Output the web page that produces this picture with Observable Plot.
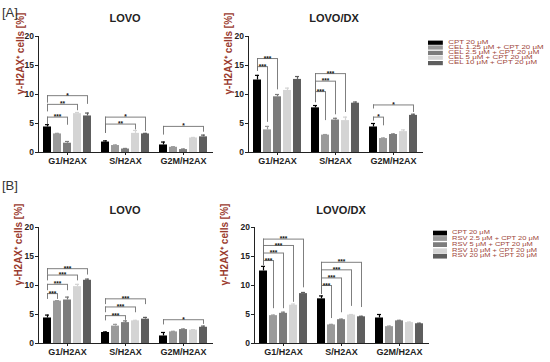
<!DOCTYPE html>
<html>
<head>
<meta charset="utf-8">
<script src="https://cdn.jsdelivr.net/npm/d3@7"></script>
<script src="https://cdn.jsdelivr.net/npm/@observablehq/plot@0.6"></script>
<style>
  body { margin: 0; background: #fff; }
  #root { position: relative; width: 550px; height: 362px; overflow: hidden; font-family: "Liberation Sans", Arial, sans-serif; }
  .abs { position: absolute; }
  .plab { font-size: 13px; color: #333; }
  .title { font-size: 11px; font-weight: bold; color: #222; transform: translateX(-50%); white-space: nowrap; }
  .legend { transform-origin: 0 0; }
  .legend .row { display: flex; align-items: center; font-size: 7.5px; color: #a0473a; white-space: nowrap; }
  .legend .sw { display: inline-block; width: 14px; height: 7px; margin-right: 5px; }
</style>
</head>
<body>
<div id="root"></div>
<script>
// ---------- data ----------
const phases = ["G1/H2AX", "S/H2AX", "G2M/H2AX"];
const treatmentsA = ["CPT 20 μM", "CEL 1.25 μM + CPT 20 μM", "CEL 2.5 μM + CPT 20 μM", "CEL 5 μM + CPT 20 μM", "CEL 10 μM + CPT 20 μM"];
const treatmentsB = ["CPT 20 μM", "RSV 2.5 μM + CPT 20 μM", "RSV 5 μM + CPT 20 μM", "RSV 10 μM + CPT 20 μM", "RSV 20 μM + CPT 20 μM"];
const yTicks = [0, 5, 10, 15, 20];
const yLabel = "γ-H2AX⁺ cells [%]";

// mean per phase (rows) and treatment (columns)
const aLovoMean = [[4.4, 3.2, 1.6, 6.7, 6.3], [1.8, 1.2, 0.6, 3.3, 3.2], [1.3, 0.9, 0.5, 2.5, 2.7]];
const aLovoErr  = [[0.4, 0.1, 0.3, 0.2, 0.5], [0.2, 0.1, 0.1, 0.5, 0.1], [0.5, 0.1, 0.1, 0.1, 0.3]];
const aDxMean   = [[12.5, 3.9, 9.6, 10.7, 12.6], [7.7, 3.0, 5.6, 5.5, 8.5], [4.4, 2.4, 3.1, 3.6, 6.4]];
const aDxErr    = [[0.8, 0.6, 0.4, 0.4, 0.5], [0.4, 0.1, 0.3, 0.6, 0.2], [0.6, 0.1, 0.1, 0.3, 0.2]];
const bLovoMean = [[4.4, 7.3, 7.5, 9.8, 10.9], [1.9, 3.0, 3.6, 3.9, 4.2], [1.3, 2.0, 2.4, 2.3, 2.8]];
const bLovoErr  = [[0.5, 0.1, 0.5, 0.4, 0.2], [0.1, 0.3, 0.3, 0.1, 0.3], [0.6, 0.1, 0.1, 0.1, 0.2]];
const bDxMean   = [[12.5, 4.8, 5.2, 6.6, 8.6], [7.7, 3.2, 4.1, 4.9, 4.6], [4.4, 2.9, 3.9, 3.6, 3.4]];
const bDxErr    = [[0.8, 0.1, 0.2, 0.2, 0.2], [0.5, 0.1, 0.1, 0.1, 0.1], [0.6, 0.1, 0.1, 0.1, 0.1]];

// significance brackets: [phase index, compared treatment index, bracket height, left end, right end, label]
const aLovoSig = [[0, 2, 6.1, 4.8, 4.7, "***"], [0, 3, 8.3, 7.0, 7.2, "**"], [0, 4, 9.8, 8.5, 8.3, "*"],
                  [1, 3, 4.9, 3.3, 3.9, "**"], [1, 4, 6.1, 3.3, 3.6, "*"], [2, 4, 4.5, 3.0, 3.5, "*"]];
const aDxSig   = [[0, 1, 14.8, 14.0, 5.2, "***"], [0, 2, 16.2, 14.0, 10.8, "***"],
                  [1, 1, 10.5, 8.6, 5.5, "***"], [1, 2, 12.3, 8.6, 6.5, "***"], [1, 3, 13.6, 8.6, 6.9, "***"],
                  [2, 1, 6.1, 5.4, 4.6, "*"], [2, 4, 8.2, 7.5, 6.9, "*"]];
const bLovoSig = [[0, 1, 8.6, 7.6, 7.6, "***"], [0, 2, 10.2, 9.1, 9.1, "***"], [0, 3, 11.8, 10.8, 10.8, "***"], [0, 4, 12.9, 11.8, 11.8, "***"],
                  [1, 2, 4.8, 3.9, 4.0, "***"], [1, 3, 6.3, 5.3, 5.3, "***"], [1, 4, 7.7, 6.7, 6.7, "***"],
                  [2, 4, 4.1, 3.2, 3.3, "*"]];
const bDxSig   = [[0, 1, 14.3, 13.5, 6.0, "***"], [0, 2, 15.6, 13.5, 6.0, "***"], [0, 3, 16.9, 13.5, 7.1, "***"], [0, 4, 18.0, 13.5, 9.6, "***"],
                  [1, 1, 10.0, 8.5, 4.3, "***"], [1, 2, 11.3, 8.5, 5.3, "***"], [1, 3, 12.7, 8.5, 6.4, "***"], [1, 4, 14.0, 8.5, 6.2, "***"]];

const grays = ["#000000", "#9a9a9a", "#7c7c7c", "#d4d4d4", "#5e5e5e"];

// ---------- drawing ----------
const FONT = "'Liberation Sans', Arial, sans-serif";

function panel(o) {
  const T = o.treatments;
  const rows = phases.flatMap((p, i) => T.map((t, j) => ({
    phase: p, treatment: t, mean: o.mean[i][j], top: o.mean[i][j] + o.err[i][j]
  })));
  const br = o.sig.map(([pi, to, y, yl, yr, label]) => ({
    phase: phases[pi], from: T[0], to: T[to], y, yl, yr, label,
    mid: T[Math.floor(to / 2)], odd: to % 2 === 1
  }));
  const bc = "#707070";
  const starOpts = {fx: "phase", x: "mid", y: "y", text: "label", fontSize: 6.5, fontWeight: "bold", fill: "#111", lineAnchor: "middle"};
  return Plot.plot({
    width: o.width, height: o.height,
    marginLeft: o.marginLeft, marginRight: 5, marginTop: 10, marginBottom: o.marginBottom,
    style: {background: "none", fontFamily: FONT, overflow: "visible", color: "#222"},
    fx: {domain: phases, padding: 0, label: null},
    x: {domain: T, paddingInner: 0.2, paddingOuter: 0.5, axis: null},
    y: {domain: [0, 20], label: null},
    color: {domain: T, range: grays},
    marks: [
      Plot.barY(rows, {fx: "phase", x: "treatment", y: "mean", fill: "treatment"}),
      Plot.ruleX(rows, {fx: "phase", x: "treatment", y1: "mean", y2: "top", stroke: "treatment", strokeWidth: 1.2}),
      Plot.tickY(rows, {fx: "phase", x: "treatment", y: "top", stroke: "treatment", inset: 2, strokeWidth: 1.2}),
      Plot.ruleY(br, {fx: "phase", x1: "from", x2: "to", y: "y", insetLeft: 4, insetRight: 4, stroke: bc, strokeWidth: 0.9}),
      Plot.ruleX(br, {fx: "phase", x: "from", y1: "yl", y2: "y", stroke: bc, strokeWidth: 0.9}),
      Plot.ruleX(br, {fx: "phase", x: "to", y1: "yr", y2: "y", stroke: bc, strokeWidth: 0.9}),
      Plot.text(br.filter(d => !d.odd), starOpts),
      Plot.text(br.filter(d => d.odd), {...starOpts, dx: 5}),
      Plot.frame({anchor: "bottom", facet: "super", stroke: "#222"}),
      Plot.frame({anchor: "left", facet: "super", stroke: "#222"}),
      Plot.axisY({ticks: yTicks, tickSize: 3, tickPadding: 1.5, fontSize: 8.5, fontWeight: "bold", label: null, stroke: "#222"}),
      Plot.axisFx({anchor: "bottom", tickSize: 3, tickPadding: 2, fontSize: 9, fontWeight: "bold", label: null}),
      Plot.text([yLabel], {facet: "super", frameAnchor: "left", rotate: -90, dx: o.labelDx, fill: "#9a3b2e", fontSize: 10, fontWeight: "bold"})
    ]
  });
}

const root = document.getElementById("root");
function place(el, left, top, cls) {
  const d = document.createElement("div");
  d.className = "abs" + (cls ? " " + cls : "");
  d.style.left = left + "px";
  d.style.top = top + "px";
  if (typeof el === "string") d.textContent = el; else d.appendChild(el);
  root.appendChild(d);
  return d;
}

place(panel({treatments: treatmentsA, mean: aLovoMean, err: aLovoErr, sig: aLovoSig, width: 217, height: 146, marginLeft: 37, marginBottom: 20, labelDx: -18}), 0, 26);
place(panel({treatments: treatmentsA, mean: aDxMean, err: aDxErr, sig: aDxSig, width: 227, height: 146, marginLeft: 48, marginBottom: 20, labelDx: -20}), 200, 26);
place(panel({treatments: treatmentsB, mean: bLovoMean, err: bLovoErr, sig: bLovoSig, width: 217, height: 145, marginLeft: 38, marginBottom: 19, labelDx: -20}), 0, 217);
place(panel({treatments: treatmentsB, mean: bDxMean, err: bDxErr, sig: bDxSig, width: 233, height: 145, marginLeft: 54, marginBottom: 19, labelDx: -30}), 200, 217);

place("[A]", 2, 5, "plab");
place("[B]", 2, 178, "plab");
place("LOVO", 125, 12, "title");
place("LOVO/DX", 334, 12, "title");
place("LOVO", 125, 204, "title");
place("LOVO/DX", 341, 204, "title");

// legend rows: unscaled row height (px), x stretch, y squash
function legend(treatments, left, top, rowH, sx, sy) {
  const box = document.createElement("div");
  box.className = "legend";
  box.style.transform = `scale(${sx}, ${sy})`;
  treatments.forEach((t, i) => {
    const r = document.createElement("div");
    r.className = "row";
    r.style.height = rowH + "px";
    r.style.lineHeight = rowH + "px";
    const s = document.createElement("span");
    s.className = "sw";
    s.style.background = grays[i];
    r.appendChild(s);
    r.appendChild(document.createTextNode(t));
    box.appendChild(r);
  });
  place(box, left, top);
}
legend(treatmentsA, 428, 39.8, 8.5, 1.06, 0.6);
legend(treatmentsB, 433, 230.4, 8.6, 1.0, 0.68);
</script>
</body>
</html>
